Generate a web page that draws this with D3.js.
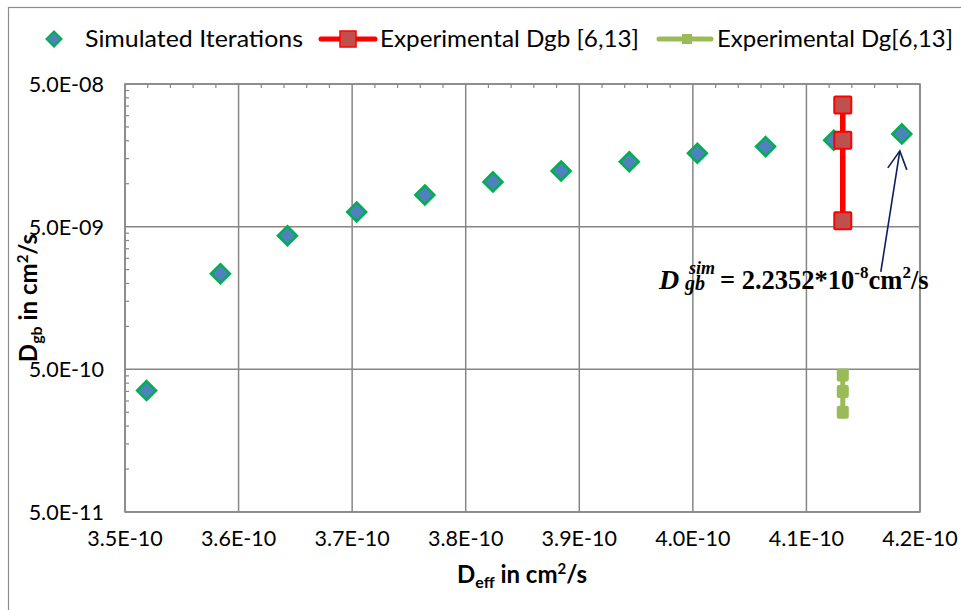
<!DOCTYPE html>
<html>
<head>
<meta charset="utf-8">
<script src="https://cdn.jsdelivr.net/npm/d3@7"></script>
<style>
  body { margin: 0; background: #fff; }
  svg { display: block; }
  .tick-lbl { font-family: Lato, "Open Sans", sans-serif; font-size: 21.5px; fill: #000; }
  .leg-lbl  { font-family: Lato, "Open Sans", sans-serif; font-size: 24px; fill: #000; }
  .ax-title { font-family: Lato, "Open Sans", sans-serif; font-size: 24px; font-weight: bold; fill: #000; }
  .note     { font-family: "Liberation Serif", "Times New Roman", serif; font-weight: bold; fill: #000; }
</style>
</head>
<body>
<svg id="chart" width="961" height="610"></svg>
<script>
// ── Data ────────────────────────────────────────────────────────────────────
const simX = [3.519e-10, 3.584e-10, 3.643e-10, 3.704e-10, 3.764e-10, 3.824e-10,
              3.884e-10, 3.944e-10, 4.004e-10, 4.064e-10, 4.124e-10, 4.184e-10];
const simY = [3.55e-10, 2.34e-9, 4.32e-9, 6.34e-9, 8.34e-9, 1.03e-8,
              1.228e-8, 1.427e-8, 1.634e-8, 1.82e-8, 2.02e-8, 2.2352e-8];
const dgbX = [4.132e-10, 4.132e-10, 4.132e-10];
const dgbY = [3.56e-8, 2.02e-8, 5.51e-9];
const dgX  = [4.132e-10, 4.132e-10, 4.132e-10];
const dgY  = [4.57e-10, 3.49e-10, 2.50e-10];
const xTicks = [3.5e-10, 3.6e-10, 3.7e-10, 3.8e-10, 3.9e-10, 4.0e-10, 4.1e-10, 4.2e-10];
const yTicks = [5e-11, 5e-10, 5e-9, 5e-8];
const legendNames = ["Simulated Iterations", "Experimental Dgb [6,13]", "Experimental Dg[6,13]"];

const svg = d3.select("#chart");
const L = 125, R = 920, T = 84, B = 512;
const grid = "#868686";

const x = d3.scaleLinear().domain([3.5e-10, 4.2e-10]).range([L, R]);
const y = d3.scaleLog().domain([5e-11, 5e-8]).range([B, T]);

// Excel-style scientific labels: 3.5E-10, 5.0E-08
const fmtSci = d => {
  const [m, e] = d.toExponential(1).split("e");
  const n = Math.abs(+e);
  return `${m}E${+e < 0 ? "-" : "+"}${n < 10 ? "0" + n : n}`;
};

// ── Outer chart border ──────────────────────────────────────────────────────
svg.append("rect").attr("x", 8.5).attr("y", 7.5).attr("width", 1000).attr("height", 700)
  .attr("fill", "none").attr("stroke", "#8c8c8c").attr("stroke-width", 1.2);

// ── Gridlines ───────────────────────────────────────────────────────────────
svg.append("g").selectAll("line").data(xTicks).join("line")
  .attr("x1", d => x(d)).attr("x2", d => x(d)).attr("y1", T).attr("y2", B)
  .attr("stroke", grid).attr("stroke-width", 1.5);
svg.append("g").selectAll("line").data(yTicks).join("line")
  .attr("x1", L).attr("x2", R).attr("y1", d => y(d)).attr("y2", d => y(d))
  .attr("stroke", grid).attr("stroke-width", 1.5);

// minor ticks: top edge (x) and left edge (log y)
const xMinor = d3.range(0, 36).map(i => 3.5e-10 + i * 0.2e-11)
  .filter((d, i) => i % 5 !== 0);
svg.append("g").selectAll("line").data(xMinor).join("line")
  .attr("x1", d => x(d)).attr("x2", d => x(d)).attr("y1", T).attr("y2", T + 4)
  .attr("stroke", grid).attr("stroke-width", 1.2);
const yMinor = [];
[5e-11, 5e-10, 5e-9].forEach(b => d3.range(2, 10).forEach(k => yMinor.push(b * k)));
svg.append("g").selectAll("line").data(yMinor).join("line")
  .attr("x1", L).attr("x2", L + 4).attr("y1", d => y(d)).attr("y2", d => y(d))
  .attr("stroke", grid).attr("stroke-width", 1.2);

// frame
svg.append("rect").attr("x", L).attr("y", T).attr("width", R - L).attr("height", B - T)
  .attr("fill", "none").attr("stroke", grid).attr("stroke-width", 1.5);

// ── Tick labels ─────────────────────────────────────────────────────────────
svg.append("g").selectAll("text").data(xTicks).join("text")
  .attr("class", "tick-lbl").attr("x", d => x(d)).attr("y", 546)
  .attr("text-anchor", "middle").text(fmtSci);
svg.append("g").selectAll("text").data(yTicks).join("text")
  .attr("class", "tick-lbl").attr("x", 104).attr("y", d => y(d) + 8)
  .attr("text-anchor", "end").text(fmtSci);

// ── Axis titles ─────────────────────────────────────────────────────────────
const xt = svg.append("text").attr("class", "ax-title").attr("x", 522).attr("y", 583)
  .attr("text-anchor", "middle");
xt.append("tspan").text("D");
xt.append("tspan").attr("font-size", 16).attr("dy", 5).text("eff");
xt.append("tspan").attr("dy", -5).text(" in cm");
xt.append("tspan").attr("font-size", 15).attr("dy", -9).text("2");
xt.append("tspan").attr("dy", 9).text("/s");

const yt = svg.append("text").attr("class", "ax-title")
  .attr("transform", `translate(37,${(T + B) / 2}) rotate(-90)`).attr("text-anchor", "middle");
yt.append("tspan").text("D");
yt.append("tspan").attr("font-size", 16).attr("dy", 5).text("gb");
yt.append("tspan").attr("dy", -5).text(" in cm");
yt.append("tspan").attr("font-size", 15).attr("dy", -9).text("2");
yt.append("tspan").attr("dy", 9).text("/s");

// ── Series ──────────────────────────────────────────────────────────────────
const diamond = s => `M0,${-s}L${s},0L0,${s}L${-s},0Z`;
const sim = simX.map((v, i) => [v, simY[i]]);
svg.append("g").selectAll("path").data(sim).join("path")
  .attr("transform", d => `translate(${x(d[0])},${y(d[1])})`)
  .attr("d", diamond(9.5))
  .attr("fill", "#4F81BD").attr("stroke", "#00B050").attr("stroke-width", 2.5);

const dgb = dgbX.map((v, i) => [v, dgbY[i]]);
svg.append("path").datum(dgb)
  .attr("d", d3.line().x(d => x(d[0])).y(d => y(d[1])))
  .attr("fill", "none").attr("stroke", "#FF0000").attr("stroke-width", 5.5);
svg.append("g").selectAll("rect").data(dgb).join("rect")
  .attr("x", d => x(d[0]) - 8.5).attr("y", d => y(d[1]) - 8.5)
  .attr("width", 17).attr("height", 17).attr("rx", 1)
  .attr("fill", "#C0504D").attr("stroke", "#FF0000").attr("stroke-width", 2);

const dg = dgX.map((v, i) => [v, dgY[i]]);
svg.append("path").datum(dg)
  .attr("d", d3.line().x(d => x(d[0])).y(d => y(d[1])))
  .attr("fill", "none").attr("stroke", "#9BBB59").attr("stroke-width", 5);
svg.append("g").selectAll("rect").data(dg).join("rect")
  .attr("x", d => x(d[0]) - 6).attr("y", d => y(d[1]) - 6.5)
  .attr("width", 12).attr("height", 13).attr("rx", 2)
  .attr("fill", "#9BBB59");

// ── Annotation: arrow to last simulated point + label ──────────────────────
const last = sim[sim.length - 1];
const tipX = x(last[0]) - 2, tipY = y(last[1]) + 17;
const navy = "#0A1F5C";
svg.append("line").attr("x1", tipX - 19).attr("y1", tipY + 121).attr("x2", tipX).attr("y2", tipY)
  .attr("stroke", navy).attr("stroke-width", 1.6);
svg.append("path")
  .attr("d", `M${tipX - 12},${tipY + 17}L${tipX},${tipY}L${tipX + 7},${tipY + 19}`)
  .attr("fill", "none").attr("stroke", navy).attr("stroke-width", 1.6);

const nb = 289;
svg.append("text").attr("class", "note").attr("x", 659).attr("y", nb)
  .attr("font-size", 28).attr("font-style", "italic").text("D");
svg.append("text").attr("class", "note").attr("x", 689).attr("y", nb - 15)
  .attr("font-size", 18).attr("font-style", "italic").text("sim");
svg.append("text").attr("class", "note").attr("x", 685).attr("y", nb + 1)
  .attr("font-size", 20).attr("font-style", "italic").text("gb");
const nt = svg.append("text").attr("class", "note").attr("x", 720).attr("y", nb).attr("font-size", 26.5);
nt.append("tspan").text("= 2.2352*10");
nt.append("tspan").attr("font-size", 17).attr("dy", -11).text("-8");
nt.append("tspan").attr("dy", 11).text("cm");
nt.append("tspan").attr("font-size", 17).attr("dy", -11).text("2");
nt.append("tspan").attr("dy", 11).text("/s");

// ── Legend ──────────────────────────────────────────────────────────────────
const lg = svg.append("g");
lg.append("path").attr("transform", "translate(54,39)").attr("d", diamond(7.5))
  .attr("fill", "#4F81BD").attr("stroke", "#00B050").attr("stroke-width", 2);
lg.append("text").attr("class", "leg-lbl").attr("x", 85).attr("y", 47)
  .attr("textLength", 218).attr("lengthAdjust", "spacingAndGlyphs").text(legendNames[0]);

lg.append("line").attr("x1", 321).attr("x2", 375).attr("y1", 39).attr("y2", 39)
  .attr("stroke", "#FF0000").attr("stroke-width", 5).attr("stroke-linecap", "round");
lg.append("rect").attr("x", 340).attr("y", 31).attr("width", 16).attr("height", 16)
  .attr("fill", "#C0504D").attr("stroke", "#FF0000").attr("stroke-width", 1.5);
lg.append("text").attr("class", "leg-lbl").attr("x", 380).attr("y", 47)
  .attr("textLength", 259).attr("lengthAdjust", "spacingAndGlyphs").text(legendNames[1]);

lg.append("line").attr("x1", 659).attr("x2", 711).attr("y1", 39).attr("y2", 39)
  .attr("stroke", "#9BBB59").attr("stroke-width", 5).attr("stroke-linecap", "round");
lg.append("rect").attr("x", 682).attr("y", 34).attr("width", 10).attr("height", 10)
  .attr("fill", "#9BBB59");
lg.append("text").attr("class", "leg-lbl").attr("x", 717).attr("y", 47)
  .attr("textLength", 236).attr("lengthAdjust", "spacingAndGlyphs").text(legendNames[2]);
</script>
</body>
</html>
